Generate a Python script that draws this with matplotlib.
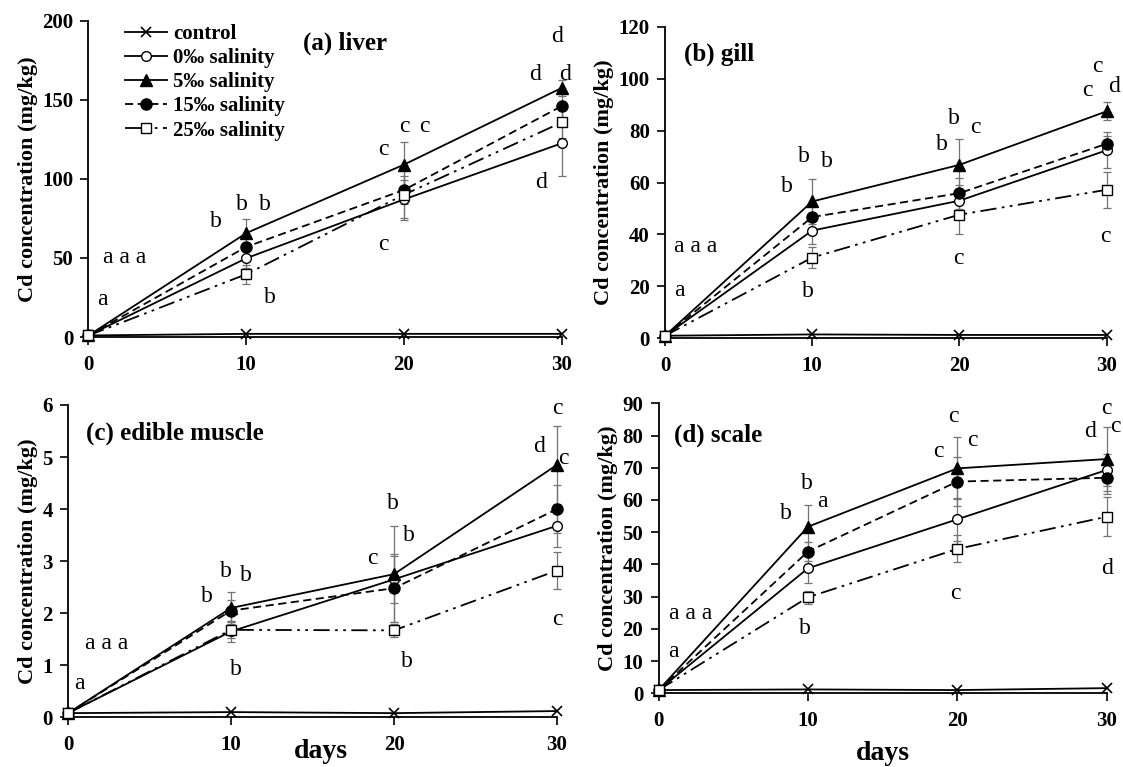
import matplotlib
matplotlib.use("Agg")
import matplotlib.pyplot as plt
import numpy as np

# sampling days
days = [0, 10, 20, 30]
series = ["control", "0‰ salinity", "5‰ salinity", "15‰ salinity", "25‰ salinity"]

# mean Cd concentration (mg/kg), rows follow `series`
liver_mean = [[1.0, 2.0, 2.0, 2.0],
              [1.0, 49.8, 87.0, 122.5],
              [1.0, 65.7, 109.0, 157.5],
              [1.0, 57.0, 93.0, 146.0],
              [1.0, 39.7, 90.0, 135.7]]
liver_err = [[0, 0, 0, 0],
             [0, 6, 12, 21],
             [0, 9, 14, 5],
             [0, 7, 9, 8],
             [0, 6, 16, 10]]

gill_mean = [[1.0, 1.5, 1.3, 1.3],
             [1.0, 41.5, 53.0, 72.4],
             [1.0, 52.7, 66.8, 87.4],
             [1.0, 46.7, 55.9, 74.9],
             [1.0, 31.1, 47.6, 57.2]]
gill_err = [[0, 0, 0, 0],
            [0, 5, 6, 7],
            [0, 8.5, 10, 3.5],
            [0, 5, 6, 3],
            [0, 4, 7.5, 7]]

muscle_mean = [[0.08, 0.10, 0.08, 0.12],
               [0.08, 1.65, 2.65, 3.68],
               [0.08, 2.10, 2.75, 4.85],
               [0.08, 2.05, 2.48, 4.00],
               [0.08, 1.68, 1.67, 2.82]]
muscle_err = [[0, 0, 0, 0],
              [0, 0.2, 0.45, 0.40],
              [0, 0.3, 0.92, 0.75],
              [0, 0.2, 0.65, 0.46],
              [0, 0.15, 0.12, 0.35]]

scale_mean = [[1.0, 1.2, 1.0, 1.6],
              [1.0, 38.8, 54.0, 69.3],
              [1.0, 51.7, 69.8, 72.7],
              [1.0, 44.0, 65.7, 66.9],
              [1.0, 29.8, 44.8, 54.8]]
scale_err = [[0, 0, 0, 0],
             [0, 4.5, 6.6, 5],
             [0, 6.7, 9.6, 9.8],
             [0, 3, 7.7, 5],
             [0, 2, 4.2, 6]]

# significance letters: (day, value, letter)
liver_letters = [(2.3, 50, "a a a"), (0.9, 24, "a"),
                 (8.1, 73, "b"), (9.7, 84, "b"), (11.2, 84, "b"), (11.5, 25, "b"),
                 (18.7, 118.5, "c"), (20.0, 133, "c"), (21.3, 133, "c"), (18.7, 58.6, "c"),
                 (29.7, 190, "d"), (28.3, 166, "d"), (30.2, 166, "d"), (28.7, 97.6, "d")]
gill_letters = [(2.1, 35.3, "a a a"), (1.0, 18.6, "a"),
                (8.3, 58.5, "b"), (9.4, 70, "b"), (11.0, 68, "b"), (9.7, 18, "b"),
                (18.8, 74.5, "b"), (19.65, 84.8, "b"), (21.1, 81, "c"), (19.9, 30.8, "c"),
                (29.4, 104.5, "c"), (28.7, 95.5, "c"), (30.5, 97, "d"), (29.9, 39.2, "c")]
muscle_letters = [(2.36, 1.42, "a a a"), (0.71, 0.65, "a"),
                  (8.5, 2.32, "b"), (9.7, 2.8, "b"), (10.9, 2.73, "b"), (10.3, 0.91, "b"),
                  (19.9, 4.11, "b"), (20.9, 3.5, "b"), (18.7, 3.05, "c"), (20.8, 1.07, "b"),
                  (30.0, 5.93, "c"), (28.9, 5.2, "d"), (30.4, 4.97, "c"), (30.0, 1.87, "c")]
scale_letters = [(2.15, 24.8, "a a a"), (0.96, 12.9, "a"),
                 (8.5, 55.9, "b"), (9.9, 65.2, "b"), (10.96, 59.5, "a"), (9.8, 20.2, "b"),
                 (19.7, 85.9, "c"), (18.7, 75, "c"), (21.0, 78.6, "c"), (19.9, 31, "c"),
                 (29.96, 88.4, "c"), (28.9, 81.2, "d"), (30.6, 82.7, "c"), (30.0, 38.8, "d")]

plt.rcParams["font.family"] = ["Liberation Serif", "DejaVu Serif"]

STYLES = [
    dict(ls="-", marker="x", mfc="black", ms=7, mew=1.2),
    dict(ls="-", marker="o", mfc="white", ms=7, mew=1.0),
    dict(ls="-", marker="^", mfc="black", ms=8, mew=1.0),
    dict(ls=(0, (4.5, 2.5)), marker="o", mfc="black", ms=8, mew=1.0),
    dict(ls=(0, (9, 3, 1.5, 3, 1.5, 3)), marker="s", mfc="white", ms=7, mew=1.0),
]


def draw_panel(ax, means, errs, letters, ymax, ystep, title, title_xy):
    for m, e in zip(means[1:], errs[1:]):
        ax.errorbar(days, m, yerr=e, fmt="none", ecolor="0.45",
                    elinewidth=0.9, capsize=3, capthick=0.9, clip_on=False, zorder=2)
    for name, m, st in zip(series, means, STYLES):
        ax.plot(days, m, color="black", lw=1.3, mec="black", label=name,
                clip_on=False, zorder=3, **st)
    for x, y, s in letters:
        ax.text(x, y, s, ha="center", va="center", fontsize=17)
    ax.text(title_xy[0], title_xy[1], title, ha="left", va="center",
            fontsize=18, fontweight="bold")
    ax.set_xlim(0, 30)
    ax.set_ylim(0, ymax)
    ax.set_xticks(days)
    ax.set_yticks(np.arange(0, ymax + ystep / 2, ystep))
    for side in ("top", "right"):
        ax.spines[side].set_visible(False)
    for side in ("left", "bottom"):
        ax.spines[side].set_linewidth(1.3)
    ax.tick_params(direction="out", length=6, width=1.2, labelsize=15, pad=5)
    ax.tick_params(axis="x", pad=7)
    for lab in ax.get_xticklabels() + ax.get_yticklabels():
        lab.set_fontweight("bold")
    ax.set_ylabel("Cd concentration (mg/kg)", fontsize=16, fontweight="bold", labelpad=3)


fig = plt.figure(figsize=(11.23, 7.67), dpi=100)
ax_a = fig.add_axes([0.0788, 0.5606, 0.4214, 0.4124])
ax_b = fig.add_axes([0.5922, 0.5589, 0.3932, 0.4063])
ax_c = fig.add_axes([0.0606, 0.0648, 0.4354, 0.4072])
ax_d = fig.add_axes([0.5865, 0.0961, 0.3990, 0.3781])

draw_panel(ax_a, liver_mean, liver_err, liver_letters, 200, 50, "(a) liver", (13.6, 185.7))
draw_panel(ax_b, gill_mean, gill_err, gill_letters, 120, 20, "(b) gill", (1.3, 109.3))
draw_panel(ax_c, muscle_mean, muscle_err, muscle_letters, 6, 1, "(c) edible muscle", (1.1, 5.45))
draw_panel(ax_d, scale_mean, scale_err, scale_letters, 90, 10, "(d) scale", (1.0, 80.2))

ax_c.set_xlabel("days", fontsize=20, fontweight="bold")
ax_c.xaxis.set_label_coords(0.517, -0.068)
ax_d.set_xlabel("days", fontsize=20, fontweight="bold")
ax_d.xaxis.set_label_coords(0.5, -0.165)

ax_a.legend(loc="upper left", bbox_to_anchor=(0.078, 0.99), frameon=False,
            borderpad=0, borderaxespad=0, handlelength=2.0, handletextpad=0.3,
            labelspacing=0.2, prop={"weight": "bold", "size": 15})

fig.savefig("out.png", dpi=100)
